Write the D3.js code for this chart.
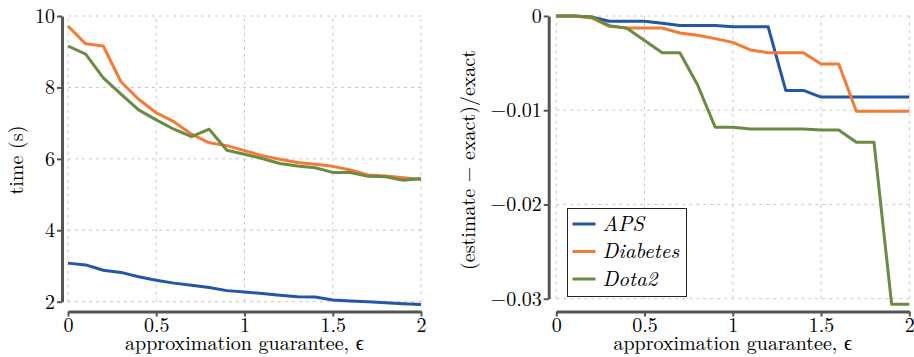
<!DOCTYPE html>
<html lang="en">
  <head>
    <meta charset="UTF-8" />
    <title>approximation guarantee</title>
    <style>
      body { margin: 0; background: #fff; }
      svg text { font-family: "Latin Modern Roman", "Liberation Serif", serif; fill: #000; }
      .grid line { stroke: #c8c8c8; stroke-width: 1; stroke-dasharray: 3, 4; }
      .axis path.domain { stroke: #555; stroke-width: 3; }
      .axis line { stroke: #555; stroke-width: 2; }
      .axis text { font-size: 20px; }
      .series { fill: none; stroke-width: 3; stroke-linejoin: round; }
    </style>
  </head>
  <body>
    <div id="container"></div>
  </body>
  <script src="https://cdnjs.cloudflare.com/ajax/libs/d3/7.8.5/d3.min.js"></script>
  <script>
    let eps = [0, 0.1, 0.2, 0.3, 0.4, 0.5, 0.6, 0.7, 0.8, 0.9, 1.0,
               1.1, 1.2, 1.3, 1.4, 1.5, 1.6, 1.7, 1.8, 1.9, 2.0];
    let names = ["APS", "Diabetes", "Dota2"];
    let colors = ["#2356a6", "#f47a35", "#6b8a43"];

    // time (s)
    let timeAPS = [3.08, 3.03, 2.88, 2.82, 2.70, 2.60, 2.52, 2.46, 2.40, 2.31, 2.27,
                   2.23, 2.18, 2.14, 2.13, 2.05, 2.02, 2.00, 1.97, 1.94, 1.92];
    let timeDiabetes = [9.72, 9.22, 9.16, 8.16, 7.67, 7.29, 7.04, 6.69, 6.45, 6.37, 6.23,
                        6.09, 5.99, 5.90, 5.85, 5.79, 5.69, 5.55, 5.52, 5.47, 5.42];
    let timeDota2 = [9.16, 8.93, 8.27, 7.81, 7.37, 7.09, 6.83, 6.62, 6.83, 6.24, 6.13,
                     6.01, 5.87, 5.80, 5.75, 5.62, 5.62, 5.51, 5.50, 5.40, 5.45];

    // (estimate - exact)/exact
    let errAPS = [0, 0, -0.0001, -0.00056, -0.00056, -0.00056, -0.00078, -0.00102, -0.00102, -0.00102, -0.00113,
                  -0.00113, -0.00113, -0.0079, -0.0079, -0.0086, -0.0086, -0.0086, -0.0086, -0.0086, -0.0086];
    let errDiabetes = [0, 0, -0.0002, -0.0011, -0.00127, -0.00127, -0.00127, -0.0018, -0.00205, -0.0024, -0.0028,
                       -0.0036, -0.0039, -0.0039, -0.0039, -0.0051, -0.0051, -0.0101, -0.0101, -0.0101, -0.0101];
    let errDota2 = [0, 0, -0.0001, -0.00102, -0.0013, -0.0026, -0.0039, -0.0039, -0.0073, -0.0118, -0.0118,
                    -0.012, -0.012, -0.012, -0.012, -0.0121, -0.0121, -0.0134, -0.0134, -0.0306, -0.0306];

    let xTicks = [0, 0.5, 1, 1.5, 2];
    let xTickLabels = ["0", "0.5", "1", "1.5", "2"];
    let timeTicks = [2, 4, 6, 8, 10];
    let timeTickLabels = ["2", "4", "6", "8", "10"];
    let errTicks = [-0.03, -0.02, -0.01, 0];
    let errTickLabels = ["\u22120.03", "\u22120.02", "\u22120.01", "0"];

    let width = 914, height = 357;
    let svg = d3.select("#container").append("svg")
      .attr("width", width).attr("height", height);

    function panel(opt) {
      let sx = d3.scaleLinear().domain([0, 2]).range(opt.xr);
      let sy = d3.scaleLinear().domain(opt.yd).range(opt.yr);
      let g = svg.append("g");

      // grid
      let grid = g.append("g").attr("class", "grid");
      grid.selectAll(".gx").data(xTicks).join("line")
        .attr("x1", d => sx(d)).attr("x2", d => sx(d))
        .attr("y1", opt.yr[0]).attr("y2", opt.yr[1]);
      grid.selectAll(".gy").data(opt.yTicks).join("line")
        .attr("x1", opt.xr[0]).attr("x2", opt.xr[1])
        .attr("y1", d => sy(d)).attr("y2", d => sy(d));

      // series
      let line = d3.line().x((d, i) => sx(eps[i])).y(d => sy(d));
      opt.series.forEach((s, i) => {
        g.append("path").attr("class", "series")
          .attr("d", line(s)).attr("stroke", colors[i]);
      });

      // axes, offset from the data area
      let xAxis = d3.axisBottom(sx).tickValues(xTicks)
        .tickFormat((d, i) => xTickLabels[i]).tickSize(5).tickSizeOuter(0).tickPadding(1);
      g.append("g").attr("class", "axis")
        .attr("transform", `translate(0,${opt.xAxisY})`).call(xAxis);
      let yAxis = d3.axisLeft(sy).tickValues(opt.yTicks)
        .tickFormat((d, i) => opt.yLabels[i]).tickSize(5).tickSizeOuter(0).tickPadding(2);
      g.append("g").attr("class", "axis")
        .attr("transform", `translate(${opt.yAxisX},0)`).call(yAxis);

      g.append("text")
        .attr("x", (opt.xr[0] + opt.xr[1]) / 2).attr("y", 350)
        .attr("text-anchor", "middle").style("font-size", "20px")
        .text("approximation guarantee, \u03f5");
      g.append("text")
        .attr("transform", `translate(${opt.yLabelX},${160}) rotate(-90)`)
        .attr("text-anchor", "middle").style("font-size", "20px")
        .text(opt.yLabel);
      return { sx, sy, g };
    }

    panel({
      xr: [68, 421], yd: [2, 10], yr: [301.7, 16],
      xAxisY: 311.5, yAxisX: 62,
      yTicks: timeTicks, yLabels: timeTickLabels,
      series: [timeAPS, timeDiabetes, timeDota2],
      yLabel: "time (s)", yLabelX: 23
    });

    panel({
      xr: [556.3, 909.3], yd: [-0.03, 0], yr: [298.7, 16],
      xAxisY: 311.5, yAxisX: 548.7,
      yTicks: errTicks, yLabels: errTickLabels,
      series: [errAPS, errDiabetes, errDota2],
      yLabel: "(estimate \u2212 exact)/exact", yLabelX: 475
    });

    // legend
    let lg = svg.append("g").attr("transform", "translate(567.5,208.5)");
    lg.append("rect").attr("width", 119).attr("height", 88)
      .attr("fill", "#fff").attr("stroke", "#222").attr("stroke-width", 1);
    names.forEach((n, i) => {
      let y = 15.5 + i * 27.5;
      lg.append("line").attr("x1", 5).attr("x2", 28).attr("y1", y).attr("y2", y)
        .attr("stroke", colors[i]).attr("stroke-width", 3);
      lg.append("text").attr("x", 35).attr("y", y + 6.5)
        .style("font-size", "21px").style("font-style", "italic").text(n);
    });
  </script>
</html>
